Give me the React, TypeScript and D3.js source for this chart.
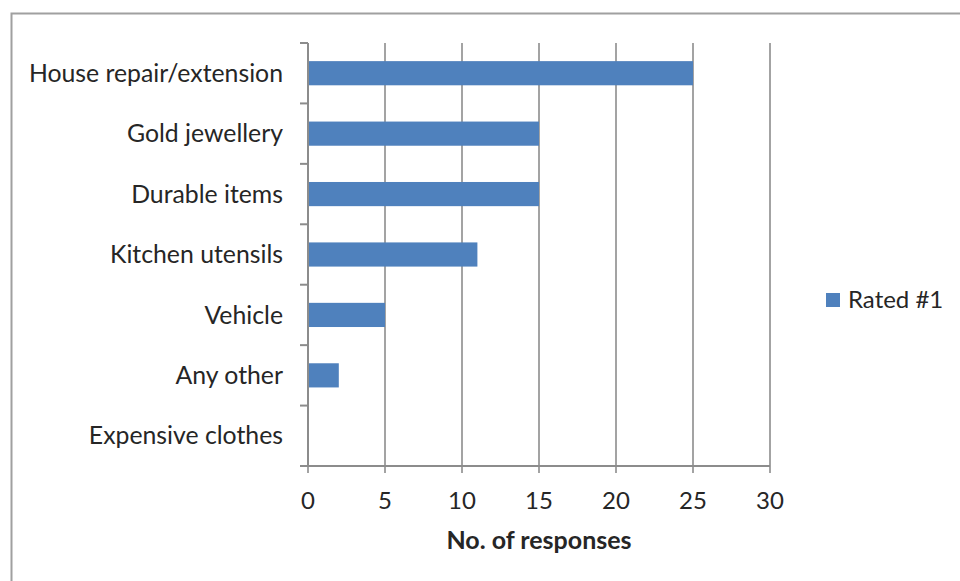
import React from "react";
import * as d3 from "d3";

const categories = [
  "House repair/extension",
  "Gold jewellery",
  "Durable items",
  "Kitchen utensils",
  "Vehicle",
  "Any other",
  "Expensive clothes",
];
const values = [25, 15, 15, 11, 5, 2, 0];
const xTicks = [0, 5, 10, 15, 20, 25, 30];
const seriesName = "Rated #1";
const xTitle = "No. of responses";

const W = 960;
const H = 581;
const left = 308;
const right = 770;
const top = 43;
const bottom = 466;
const barColor = "#4f81bd";
const axisColor = "#8c8c8c";
const font = "Lato, 'Open Sans', sans-serif";

export default function App() {
  const x = d3.scaleLinear().domain([0, 30]).range([left, right]);
  const y = d3.scaleBand().domain(categories).range([top, bottom]).paddingInner(0.6).paddingOuter(0.3);
  const yb = d3.scaleBand().domain(categories).range([top, bottom]);
  return (
    <svg width={W} height={H} style={{ position: "absolute", left: 0, top: 0 }}>
      <rect x={11.5} y={13.5} width={W + 10} height={H + 10} fill="#fff" stroke="#a0a0a0" strokeWidth={2} />
      {xTicks.map((t) => (
        <line key={"g" + t} x1={x(t)} x2={x(t)} y1={top} y2={bottom + 7} stroke={axisColor} strokeWidth={1.6} />
      ))}
      {categories.map((c, i) => (
        <rect key={c} x={x(0)} y={y(c)} width={x(values[i]) - x(0)} height={y.bandwidth()} fill={barColor} />
      ))}
      <line x1={left} x2={left} y1={top} y2={bottom} stroke={axisColor} strokeWidth={2} />
      {[...categories.map((c) => yb(c) as number), bottom].map((v, i) => (
        <line key={"t" + i} x1={left - 8} x2={left} y1={v} y2={v} stroke={axisColor} strokeWidth={2} />
      ))}
      <line x1={left - 8} x2={right} y1={bottom} y2={bottom} stroke={axisColor} strokeWidth={2} />
      {categories.map((c) => (
        <text key={"l" + c} x={283} y={(yb(c) as number) + yb.bandwidth() / 2} dy="0.35em" textAnchor="end" fontFamily={font} fontSize={24.8} fill="#262626">
          {c}
        </text>
      ))}
      {xTicks.map((t) => (
        <text key={"x" + t} x={x(t)} y={501} dy="0.35em" textAnchor="middle" fontFamily={font} fontSize={24} fill="#262626">
          {t}
        </text>
      ))}
      <text x={(left + right) / 2} y={540} dy="0.35em" textAnchor="middle" fontFamily={font} fontSize={25} fontWeight="bold" fill="#262626">
        {xTitle}
      </text>
      <rect x={826} y={293} width={14} height={14} fill={barColor} />
      <text x={848} y={300} dy="0.35em" fontFamily={font} fontSize={24} fill="#262626">
        {seriesName}
      </text>
    </svg>
  );
}
